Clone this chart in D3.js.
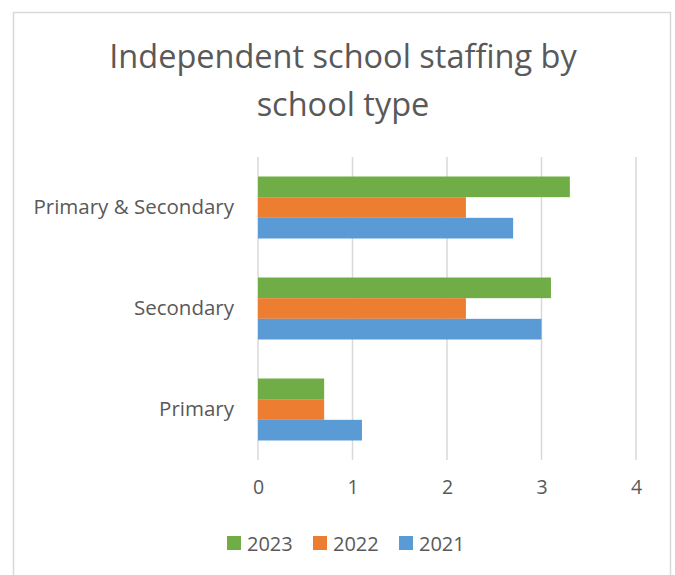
<!DOCTYPE html>
<html>
<head>
<meta charset="utf-8">
<script src="https://cdn.jsdelivr.net/npm/d3@7"></script>
<style>
  html, body { margin: 0; padding: 0; background: #ffffff; }
  svg { display: block; font-family: "Open Sans", "Liberation Sans", sans-serif; }
</style>
</head>
<body>
<svg id="chart" width="675" height="575"></svg>
<script>
// Staffing figures by school type, one array per year
const categories = ["Primary & Secondary", "Secondary", "Primary"];
const years = ["2023", "2022", "2021"];
const values2023 = [3.3, 3.1, 0.7];
const values2022 = [2.2, 2.2, 0.7];
const values2021 = [2.7, 3.0, 1.1];
const xTicks = [0, 1, 2, 3, 4];
const titleLines = ["Independent school staffing by", "school type"];
const colors = ["#70ad47", "#ed7d31", "#5b9bd5"];

const series = years.map((y, i) => ({
  year: y,
  color: colors[i],
  values: [values2023, values2022, values2021][i]
}));

const svg = d3.select("#chart");
const textColor = "#595959";
const gridColor = "#d9d9d9";

// Chart frame
svg.append("rect")
  .attr("x", 13.5).attr("y", 12.5)
  .attr("width", 657).attr("height", 600)
  .attr("fill", "#ffffff")
  .attr("stroke", gridColor).attr("stroke-width", 1.5);

// Title
svg.append("g").selectAll("text")
  .data(titleLines)
  .join("text")
  .attr("x", 343)
  .attr("y", (d, i) => 68 + i * 48)
  .attr("text-anchor", "middle")
  .attr("fill", textColor)
  .attr("font-size", 32.5)
  .text(d => d);

// Scales
const x = d3.scaleLinear().domain([0, 4]).range([258, 636]);
const y = d3.scaleBand().domain(categories).range([157, 460]).paddingInner(0).paddingOuter(0);
const inner = d3.scaleBand().domain(years).range([0, 62]);

// Vertical gridlines
svg.append("g").selectAll("line")
  .data(xTicks)
  .join("line")
  .attr("x1", d => x(d)).attr("x2", d => x(d))
  .attr("y1", 157).attr("y2", 460)
  .attr("stroke", gridColor).attr("stroke-width", 1.5);

// Bars
const groups = svg.append("g").selectAll("g")
  .data(series)
  .join("g")
  .attr("fill", d => d.color);

groups.selectAll("rect")
  .data(d => d.values.map((v, i) => ({ v, cat: categories[i], year: d.year })))
  .join("rect")
  .attr("x", x(0))
  .attr("y", d => y(d.cat) + (y.bandwidth() - 62) / 2 + inner(d.year))
  .attr("width", d => x(d.v) - x(0))
  .attr("height", inner.bandwidth());

// X axis labels
const xAxis = d3.axisBottom(x).tickValues(xTicks).tickSize(0).tickPadding(0).tickFormat(d3.format("d"));
const xg = svg.append("g").attr("transform", "translate(0,480)").call(xAxis);
xg.select(".domain").remove();
xg.selectAll("text").attr("fill", textColor).attr("font-size", 19.5).attr("font-family", "Open Sans");

// Category labels
const yAxis = d3.axisLeft(y).tickSize(0).tickPadding(0);
const yg = svg.append("g").attr("transform", "translate(234,0)").call(yAxis);
yg.select(".domain").remove();
yg.selectAll("text").attr("fill", textColor).attr("font-size", 20.5).attr("font-family", "Open Sans");

// Legend
const legendX = [227, 313, 399];
const legend = svg.append("g").selectAll("g")
  .data(series)
  .join("g")
  .attr("transform", (d, i) => `translate(${legendX[i]},536)`);
legend.append("rect").attr("width", 14).attr("height", 14).attr("fill", d => d.color);
legend.append("text")
  .attr("x", 20).attr("y", 14.5)
  .attr("fill", textColor)
  .attr("font-size", 20)
  .text(d => d.year);
</script>
</body>
</html>
